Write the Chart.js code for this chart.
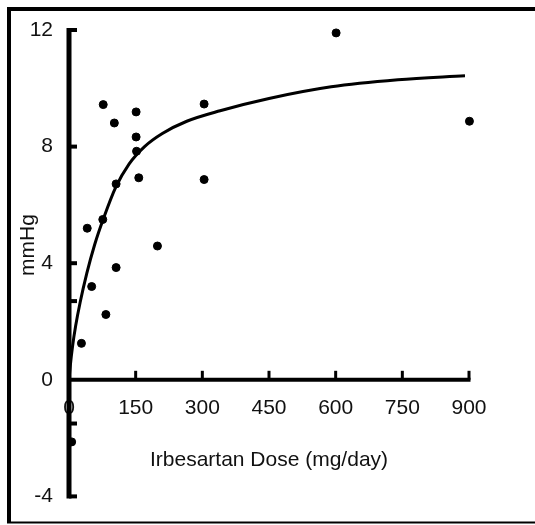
<!DOCTYPE html>
<html>
<head>
<meta charset="utf-8">
<script src="https://cdn.jsdelivr.net/npm/chart.js@4.4.1/dist/chart.umd.min.js"></script>
<style>
  html, body { margin: 0; padding: 0; background: #fff; }
  #wrap { width: 535px; height: 525px; }
</style>
</head>
<body>
<div id="wrap"><canvas id="chart" width="535" height="525"></canvas></div>
<script>
// observed points
const doseValues     = [77, 102, 151, 151, 152, 157, 304, 304, 106, 76, 41, 199, 106, 51, 83, 28, 6, 601, 901];
const responseValues = [9.44, 8.81, 9.19, 8.33, 7.84, 6.93, 9.46, 6.87, 6.72, 5.5, 5.2, 4.59, 3.85, 3.2, 2.24, 1.25, -2.13, 11.9, 8.87];

// fitted curve
const fitDose     = [0, 3, 8, 15, 25, 40, 58, 78, 105, 135, 170, 210, 265, 340, 450, 590, 740, 891];
const fitResponse = [0, 0.5, 1.15, 1.85, 2.65, 3.65, 4.65, 5.55, 6.6, 7.4, 8.0, 8.45, 8.87, 9.23, 9.65, 10.05, 10.29, 10.43];

const xTicks = [0, 150, 300, 450, 600, 750, 900];
const yTicks = [-4, 0, 4, 8, 12];
const yExtraMarks = [2.7, -1.5];

const xTitle = 'Irbesartan Dose (mg/day)';
const yTitle = 'mmHg';

const FONT = '"Liberation Sans", Arial, sans-serif';
const FONT_SIZE = 21;

const pointData = doseValues.map((d, i) => ({ x: d, y: responseValues[i] }));
const fitData = fitDose.map((d, i) => ({ x: d, y: fitResponse[i] }));

const axesPlugin = {
  id: 'axesPlugin',
  beforeDatasetsDraw(chart) {
    const { ctx, scales: { x, y } } = chart;
    ctx.save();
    ctx.strokeStyle = '#000';
    ctx.lineCap = 'butt';

    // picture frame
    ctx.lineWidth = 4;
    ctx.beginPath();
    ctx.moveTo(535, 9); ctx.lineTo(9, 9); ctx.lineTo(9, 523);
    ctx.stroke();
    ctx.lineWidth = 2;
    ctx.beginPath();
    ctx.moveTo(7, 522.5); ctx.lineTo(535, 522.5);
    ctx.stroke();

    // y axis
    const ax = x.getPixelForValue(0);
    const yTop = y.getPixelForValue(12);
    const yBot = y.getPixelForValue(-4);
    ctx.lineWidth = 5;
    ctx.beginPath();
    ctx.moveTo(ax, yTop - 2); ctx.lineTo(ax, yBot + 2);
    ctx.stroke();
    ctx.lineWidth = 4;
    yTicks.concat(yExtraMarks).forEach(v => {
      const py = y.getPixelForValue(v);
      if (v === 0) return;
      ctx.beginPath();
      ctx.moveTo(ax, py); ctx.lineTo(ax + 8, py);
      ctx.stroke();
    });

    // x axis at y = 0
    const y0 = y.getPixelForValue(0);
    const xEnd = x.getPixelForValue(900);
    ctx.lineWidth = 4;
    ctx.beginPath();
    ctx.moveTo(ax, y0); ctx.lineTo(xEnd + 1.5, y0);
    ctx.stroke();
    ctx.lineWidth = 3;
    xTicks.forEach(v => {
      if (v === 0) return;
      const px = x.getPixelForValue(v);
      ctx.beginPath();
      ctx.moveTo(px, y0); ctx.lineTo(px, y0 - 9);
      ctx.stroke();
    });

    // axis titles
    ctx.fillStyle = '#111';
    ctx.font = FONT_SIZE + 'px ' + FONT;
    ctx.textAlign = 'center';
    ctx.textBaseline = 'middle';
    ctx.fillText(xTitle, (ax + xEnd) / 2, 460);
    ctx.translate(28, 245);
    ctx.rotate(-Math.PI / 2);
    ctx.fillText(yTitle, 0, 0);
    ctx.restore();
  }
};

new Chart(document.getElementById('chart'), {
  type: 'scatter',
  data: {
    datasets: [
      {
        label: 'Observed',
        data: pointData,
        backgroundColor: '#000',
        borderColor: '#000',
        pointRadius: 4,
        pointHoverRadius: 4,
        clip: false
      },
      {
        label: 'Fit',
        data: fitData,
        showLine: true,
        borderColor: '#000',
        borderWidth: 3,
        pointRadius: 0,
        cubicInterpolationMode: 'monotone',
        fill: false,
        clip: false
      }
    ]
  },
  options: {
    responsive: false,
    animation: false,
    devicePixelRatio: 1,
    layout: {
      padding: { left: 10, right: 66, top: 30, bottom: 28 }
    },
    plugins: {
      legend: { display: false },
      tooltip: { enabled: false }
    },
    scales: {
      x: {
        type: 'linear',
        position: { y: 0 },
        min: 0,
        max: 900,
        afterBuildTicks: scale => { scale.ticks = xTicks.map(v => ({ value: v })); },
        grid: { display: false, drawTicks: false },
        border: { display: false },
        ticks: {
          autoSkip: false,
          maxRotation: 0,
          padding: 16,
          color: '#111',
          font: { family: FONT, size: FONT_SIZE }
        }
      },
      y: {
        type: 'linear',
        min: -4,
        max: 12,
        afterBuildTicks: scale => { scale.ticks = yTicks.map(v => ({ value: v })); },
        afterFit: scale => { scale.width = 59; },
        grid: { display: false, drawTicks: false },
        border: { display: false },
        ticks: {
          padding: 16,
          color: '#111',
          font: { family: FONT, size: FONT_SIZE }
        }
      }
    }
  },
  plugins: [axesPlugin]
});
</script>
</body>
</html>
